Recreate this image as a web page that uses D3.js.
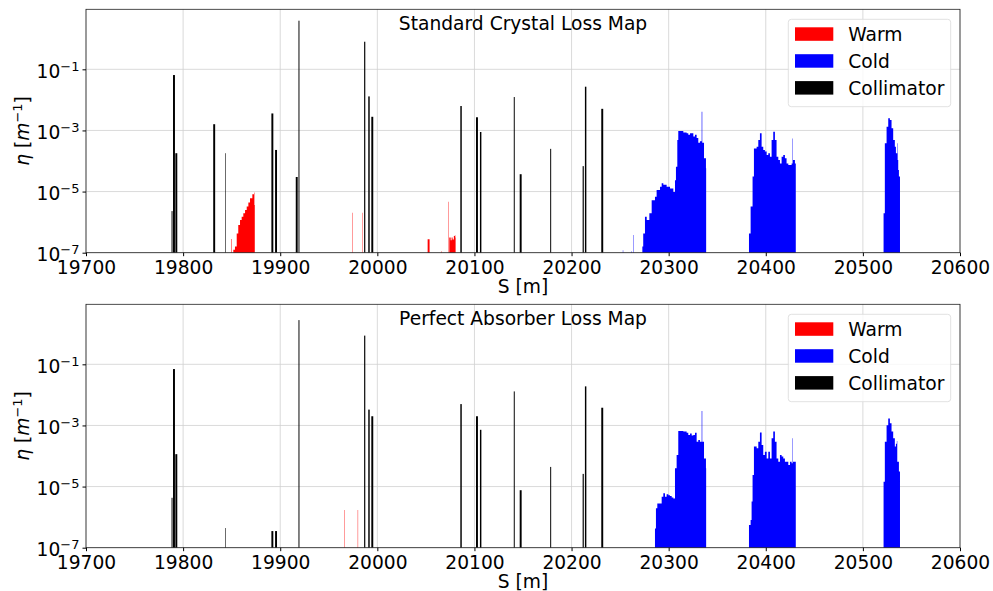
<!DOCTYPE html>
<html>
<head>
<meta charset="utf-8">
<script src="https://cdn.jsdelivr.net/npm/d3@7"></script>
<style>
  body { margin: 0; background: #fff; }
  svg { font-family: "DejaVu Sans", sans-serif; }
</style>
</head>
<body>
<div id="container"></div>
<script>
/* DATA */
// collimator positions (m), lengths (m)
const collS = [19788.6, 19790.6, 19793.0, 19832.0, 19843.8, 19891.9, 19895.7, 19917.0, 19919.3, 19987.0, 19991.4,
  19994.8, 20086.2, 20102.6, 20106.4, 20141.0, 20147.6, 20178.5, 20212.0, 20214.5, 20231.6];
const collLength = [1, 2, 2, 2, 0.6, 2, 2, 2, 1, 1.2, 1.5, 2, 1.5, 2, 1.5, 1, 2, 1, 1.2, 1.5, 2];
// collimator losses (0 = no loss)
const crystalColl = [2.3e-6, 0.065, 1.8e-4, 1.6e-3, 1.8e-4, 3.6e-3, 2.3e-4, 3.0e-5, 3.9, 0.8, 0.013,
  2.8e-3, 6.3e-3, 2.7e-3, 8.9e-4, 0.0124, 3.7e-5, 2.5e-4, 6.8e-5, 0.027, 5.1e-3];
const absorberColl = [4.3e-6, 0.07, 1.15e-4, 0, 4.4e-7, 3.5e-7, 3.5e-7, 0, 2.8, 0.87, 3.3e-3,
  2.0e-3, 5.0e-3, 2.0e-3, 7.2e-4, 0.013, 7.6e-6, 4.4e-5, 2.6e-5, 0.019, 3.8e-3];

// aperture losses: segments of [s (m), log10(eta)], last point closes the segment
const crystalWarm = [
  [[19849.8, -6.55], [19850.3, -6.55]],
  [[19851.7, -6.9], [19853.4, -6.8], [19855.2, -6.37], [19856.8, -6.09], [19858.6, -5.93], [19860.3, -5.82],
   [19862.0, -5.71], [19863.8, -5.6], [19865.5, -5.49], [19867.2, -5.36], [19868.9, -5.22], [19871.3, -5.09],
   [19873.0, -5.03], [19873.4, -5.44], [19873.8, -5.44]],
  [[19974.0, -5.69], [19974.4, -5.69]],
  [[19984.3, -5.69], [19984.7, -5.69]],
  [[20051.8, -6.56], [20053.8, -6.56]],
  [[20065.6, -6.95], [20066.0, -6.95]],
  [[20072.8, -5.33], [20073.2, -5.33]],
  [[20074.1, -6.5], [20075.5, -6.59], [20076.5, -6.5], [20077.5, -6.57], [20078.8, -6.45], [20079.8, -6.43], [20080.3, -6.5], [20080.6, -6.5]]
];
const crystalCold = [
  [[20252.8, -6.92], [20253.2, -6.92]],
  [[20261.7, -6.95], [20262.1, -6.95]],
  [[20263.4, -6.42], [20263.8, -6.42]],
  [[20272.9, -6.8], [20273.8, -6.37], [20275.6, -5.82], [20277.4, -5.93], [20280.1, -5.71], [20282.5, -5.28],
   [20285.9, -5.17], [20287.6, -4.95], [20291.1, -4.84], [20292.8, -4.73], [20294.5, -4.78], [20297.9, -4.84],
   [20301.4, -4.9], [20304.8, -5.01], [20306.5, -4.63], [20307.5, -4.19], [20308.9, -3.31], [20309.9, -3.02],
   [20311.7, -3.02], [20315.1, -3.07], [20318.5, -3.09], [20320.2, -3.14], [20322.0, -3.09], [20325.4, -3.2],
   [20327.1, -3.14], [20328.8, -3.25], [20330.5, -3.4], [20332.2, -3.35], [20334.0, -2.39], [20334.6, -3.4],
   [20336.4, -3.91], [20338.4, -4.24], [20338.6, -4.24]],
  [[20382.7, -6.37], [20384.4, -5.49], [20386.4, -4.51], [20387.8, -3.59], [20390.6, -3.53], [20392.3, -3.31],
   [20394.0, -3.09], [20395.7, -3.53], [20397.4, -3.64], [20399.1, -3.69], [20400.9, -3.8], [20402.6, -3.75],
   [20404.3, -3.86], [20406.0, -3.31], [20407.7, -3.04], [20409.4, -3.31], [20411.1, -3.86], [20412.9, -3.97],
   [20414.6, -4.08], [20416.3, -3.86], [20418.0, -3.8], [20419.7, -3.91], [20421.4, -4.08], [20423.2, -4.13],
   [20424.9, -4.13], [20426.6, -4.08], [20427.6, -3.26], [20428.0, -3.97], [20430.0, -4.08], [20430.9, -4.08]],
  [[20521.3, -5.71], [20522.6, -3.42], [20524.4, -2.88], [20526.1, -2.6], [20527.8, -2.66], [20529.5, -2.93],
   [20531.2, -3.31], [20532.9, -3.53], [20534.0, -3.75], [20535.4, -3.42], [20535.8, -3.97], [20536.4, -4.29],
   [20537.1, -4.51], [20538.2, -4.51]]
];
const absorberWarm = [
  [[19965.8, -5.77], [19966.2, -5.77]],
  [[19979.8, -5.77], [19980.2, -5.77]]
];
const absorberCold = [
  [[20285.9, -6.37], [20286.9, -5.71], [20288.3, -5.55], [20291.1, -5.55], [20292.8, -5.33], [20294.5, -5.22],
   [20296.2, -5.33], [20297.9, -5.25], [20299.7, -5.28], [20301.4, -5.31], [20303.1, -5.36], [20304.8, -5.39],
   [20306.5, -4.4], [20308.2, -3.97], [20309.9, -3.18], [20311.7, -3.18], [20315.1, -3.2], [20318.5, -3.24],
   [20320.2, -3.31], [20322.0, -3.26], [20323.7, -3.33], [20325.4, -3.31], [20327.1, -3.24], [20328.8, -3.53],
   [20330.5, -3.48], [20332.2, -3.53], [20334.0, -2.53], [20334.6, -3.53], [20336.4, -4.08], [20338.4, -4.4],
   [20338.6, -4.4]],
  [[20382.7, -6.26], [20384.4, -6.09], [20385.4, -5.49], [20386.4, -4.62], [20387.8, -3.69], [20390.6, -3.75],
   [20392.3, -3.53], [20394.0, -3.23], [20395.7, -3.64], [20397.4, -3.97], [20399.1, -3.86], [20400.9, -4.08],
   [20402.6, -3.86], [20404.3, -4.08], [20406.0, -3.42], [20407.7, -3.2], [20409.4, -3.53], [20411.1, -4.08],
   [20412.9, -4.19], [20414.6, -3.97], [20416.3, -4.02], [20418.0, -4.08], [20419.7, -4.19], [20421.4, -4.19],
   [20423.2, -4.29], [20424.9, -4.19], [20426.6, -4.24], [20427.6, -3.42], [20428.0, -4.19], [20430.0, -4.19],
   [20430.9, -4.19]],
  [[20521.3, -4.84], [20522.6, -3.53], [20524.4, -2.99], [20526.1, -2.77], [20527.8, -2.93], [20529.5, -3.2],
   [20531.2, -3.42], [20532.9, -3.69], [20534.0, -3.6], [20535.0, -3.51], [20535.4, -4.19], [20537.1, -4.51],
   [20538.2, -4.51]]
];

const xTicks = [19700, 19800, 19900, 20000, 20100, 20200, 20300, 20400, 20500, 20600];
const yTicks = [1e-7, 1e-5, 1e-3, 1e-1];
const yTickExp = ["−7", "−5", "−3", "−1"];
const legendLabels = ["Warm", "Cold", "Collimator"];
const legendColors = ["#ff0000", "#0000ff", "#000000"];

const panels = [
  { title: "Standard Crystal Loss Map", coll: crystalColl, warm: crystalWarm, cold: crystalCold, top: 9.3 },
  { title: "Perfect Absorber Loss Map", coll: absorberColl, warm: absorberWarm, cold: absorberCold, top: 304.3 }
];

/* CONSTANTS AND GLOBALS */
const width = 993, height = 591;
const left = 86, right = 960, plotH = 243.4;
const fontSize = 18.67, supSize = 13;

const svg = d3.select("#container")
  .append("svg")
  .attr("width", width)
  .attr("height", height);

const xScale = d3.scaleLinear()
  .domain([19700, 20600])
  .range([left, right]);

panels.forEach(p => {
  const bottom = p.top + plotH;
  const yScale = d3.scaleLog()
    .domain([1e-7, Math.pow(10, 0.964)])
    .range([bottom, p.top]);

  const g = svg.append("g");

  // grid
  g.append("g").selectAll("line")
    .data(xTicks)
    .join("line")
    .attr("x1", d => xScale(d)).attr("x2", d => xScale(d))
    .attr("y1", p.top).attr("y2", bottom)
    .attr("stroke", "#d0d0d0").attr("stroke-width", 0.8);
  g.append("g").selectAll("line")
    .data(yTicks)
    .join("line")
    .attr("x1", left).attr("x2", right)
    .attr("y1", d => yScale(d)).attr("y2", d => yScale(d))
    .attr("stroke", "#d0d0d0").attr("stroke-width", 0.8);

  // warm + cold aperture losses as step areas
  const area = d3.area()
    .curve(d3.curveStepAfter)
    .x(d => xScale(d[0]))
    .y0(bottom)
    .y1(d => yScale(Math.pow(10, d[1])));

  g.append("g").selectAll("path")
    .data(p.warm)
    .join("path")
    .attr("d", area)
    .attr("fill", "#ff0000");
  g.append("g").selectAll("path")
    .data(p.cold)
    .join("path")
    .attr("d", area)
    .attr("fill", "#0000ff");

  // collimators
  const coll = collS.map((s, i) => ({ s: s, len: collLength[i], v: p.coll[i] })).filter(d => d.v > 0);
  g.append("g").selectAll("rect")
    .data(coll)
    .join("rect")
    .attr("x", d => xScale(d.s - d.len / 2))
    .attr("width", d => xScale(d.s + d.len / 2) - xScale(d.s - d.len / 2))
    .attr("y", d => yScale(d.v))
    .attr("height", d => bottom - yScale(d.v))
    .attr("fill", "#000");

  // frame
  g.append("rect")
    .attr("x", left).attr("y", p.top)
    .attr("width", right - left).attr("height", plotH)
    .attr("fill", "none").attr("stroke", "#222").attr("stroke-width", 0.8);

  // x axis
  const xAxis = d3.axisBottom(xScale).tickValues(xTicks).tickSize(3.5).tickPadding(5).tickFormat(d3.format("d"));
  const xa = g.append("g")
    .attr("transform", `translate(0, ${bottom})`)
    .call(xAxis);
  xa.select(".domain").remove();
  xa.selectAll("text").attr("font-size", fontSize).attr("font-family", "DejaVu Sans").attr("fill", "#000");

  // y axis, labels 10^n
  const yAxis = d3.axisLeft(yScale).tickValues(yTicks).tickSize(3.5).tickPadding(3);
  const ya = g.append("g")
    .attr("transform", `translate(${left}, 0)`)
    .call(yAxis);
  ya.select(".domain").remove();
  ya.selectAll(".tick text").each(function (d, i) {
    const t = d3.select(this).text("")
      .attr("font-size", fontSize).attr("font-family", "DejaVu Sans").attr("fill", "#000")
      .attr("dy", "0.43em");
    t.append("tspan").text("10");
    t.append("tspan").attr("font-size", supSize).attr("dy", -7).text(yTickExp[i]);
  });

  // y label
  const yl = g.append("text")
    .attr("transform", `translate(29, ${(p.top + bottom) / 2}) rotate(-90)`)
    .attr("text-anchor", "middle")
    .attr("font-size", fontSize);
  yl.append("tspan").attr("font-style", "italic").text("η");
  yl.append("tspan").text(" [");
  yl.append("tspan").attr("font-style", "italic").text("m");
  yl.append("tspan").attr("font-size", supSize).attr("dy", -7).text("−1");
  yl.append("tspan").attr("dy", 7).text("]");

  // x label
  g.append("text")
    .attr("x", (left + right) / 2).attr("y", bottom + 40.5)
    .attr("text-anchor", "middle")
    .attr("font-size", fontSize)
    .text("S [m]");

  // title
  g.append("text")
    .attr("x", (left + right) / 2).attr("y", p.top + 20.5)
    .attr("text-anchor", "middle")
    .attr("font-size", fontSize)
    .text(p.title);

  // legend
  const lg = g.append("g").attr("transform", `translate(788.3, ${p.top + 10})`);
  lg.append("rect")
    .attr("width", 162.4).attr("height", 87.4).attr("rx", 3)
    .attr("fill", "#fff").attr("fill-opacity", 0.8)
    .attr("stroke", "#d9d9d9").attr("stroke-width", 0.8);
  legendLabels.forEach((lab, i) => {
    lg.append("rect")
      .attr("x", 6.7).attr("y", 8 + i * 26.9)
      .attr("width", 38.3).attr("height", 13.5)
      .attr("fill", legendColors[i]);
    lg.append("text")
      .attr("x", 60).attr("y", 21.6 + i * 26.9)
      .attr("font-size", fontSize)
      .text(lab);
  });
});
</script>
</body>
</html>
